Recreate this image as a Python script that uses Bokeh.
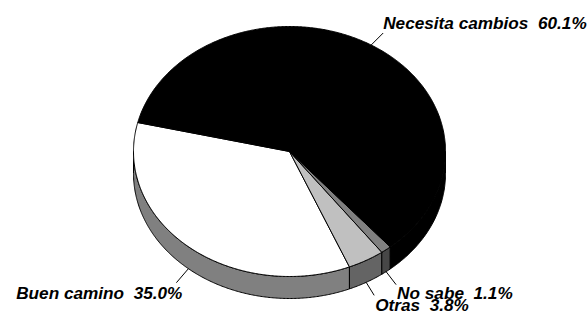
import numpy as np
from bokeh.plotting import figure
from bokeh.models import Range1d, ColumnDataSource
from bokeh.core.properties import value
from bokeh.embed import file_html
from bokeh.resources import INLINE

# ---- data ----
categories = ["Buen camino", "Otras", "No sabe", "Necesita cambios"]
values = [35.0, 3.8, 1.1, 60.1]
pct_labels = ["35.0%", "3.8%", "1.1%", "60.1%"]

# ---- styles ----
top_colors = ["#ffffff", "#c0c0c0", "#808080", "#000000"]
side_colors = ["#808080", "#646464", "#474747", "#000000"]

W, H = 587, 314
cx, cy = 289.0, 151.0      # ellipse centre (canvas px, y down)
rx, ry = 156.0, 125.0
depth = 22.0
start_deg = 166.6          # where the first slice starts (counter-clockwise)

# leader line vector (dx, dy) and text offset from the leader end, text align
leader = {
    "Buen camino": ((-12, 14), (6, 10), "right"),
    "Otras": ((8, 13), (1, 10), "left"),
    "No sabe": ((10, 13), (1, 8), "left"),
    "Necesita cambios": ((12, -12), (0, -10.5), "left"),
}

p = figure(width=W, height=H, x_range=Range1d(0, W), y_range=Range1d(H, 0),
           output_backend="svg", toolbar_location=None,
           x_axis_location=None, y_axis_location=None,
           min_border=0, outline_line_color=None)
p.grid.visible = False
p.background_fill_color = "white"
p.border_fill_color = "white"


def ex(t):
    return cx + rx * np.cos(np.radians(t))


def ey(t):
    return cy - ry * np.sin(np.radians(t))


total = float(sum(values))
a0s, a1s = [], []
acc = start_deg
for v in values:
    a0s.append(acc)
    acc += 360.0 * v / total
    a1s.append(acc)

# side walls (front half only)
side_xs, side_ys, side_c = [], [], []
for a0, a1, sc in zip(a0s, a1s, side_colors):
    for k in range(0, 3):
        lo = max(a0, 180 + 360 * k)
        hi = min(a1, 360 + 360 * k)
        if hi > lo:
            n = max(4, int((hi - lo) * 2))
            t = np.linspace(lo, hi, n)
            xs = list(ex(t)) + list(ex(t[::-1]))
            ys = list(ey(t)) + list(ey(t[::-1]) + depth)
            side_xs.append(xs)
            side_ys.append(ys)
            side_c.append(sc)

p.patches("xs", "ys", source=ColumnDataSource(dict(xs=side_xs, ys=side_ys, c=side_c)),
          fill_color="c", line_color="black", line_width=1)

# top faces
top_xs, top_ys = [], []
for a0, a1 in zip(a0s, a1s):
    n = max(4, int((a1 - a0) * 2))
    t = np.linspace(a0, a1, n)
    top_xs.append([cx] + list(ex(t)))
    top_ys.append([cy] + list(ey(t)))

p.patches("xs", "ys", source=ColumnDataSource(dict(xs=top_xs, ys=top_ys, c=top_colors)),
          fill_color="c", line_color="black", line_width=1)

# labels with leader lines
x0s, y0s, x1s, y1s = [], [], [], []
for cat, pct, a0, a1 in zip(categories, pct_labels, a0s, a1s):
    mid = (a0 + a1) / 2.0
    sx, sy = float(ex(mid)), float(ey(mid))
    if np.sin(np.radians(mid)) < 0:
        sy += depth
    (ldx, ldy), (tdx, tdy), align = leader[cat]
    exx, eyy = sx + ldx, sy + ldy
    x0s.append(sx); y0s.append(sy); x1s.append(exx); y1s.append(eyy)
    p.text(x=[exx + tdx], y=[eyy + tdy], text=[cat + "\u00a0 " + pct],
           text_font=value("Liberation Sans"), text_font_style="bold italic",
           text_font_size="17.2px", text_color="black",
           text_align=align, text_baseline="alphabetic")

p.segment(x0=x0s, y0=y0s, x1=x1s, y1=y1s, line_color="black", line_width=1)

open("out.html", "w").write(file_html(p, INLINE))
